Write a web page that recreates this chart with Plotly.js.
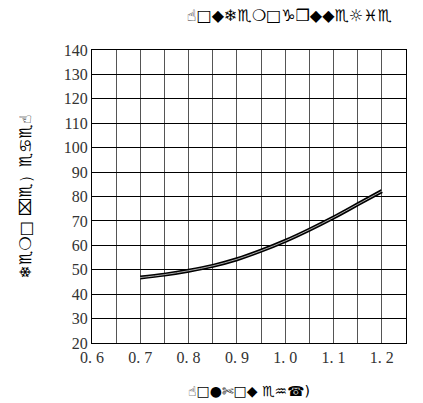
<!DOCTYPE html>
<html><head><meta charset="utf-8">
<script src="https://cdn.plot.ly/plotly-3.0.1.min.js"></script>
<style>html,body{margin:0;padding:0;background:#fff}#c{width:423px;height:403px}</style>
</head><body><div id="c"></div>
<script>
const xValues = [0.70, 0.75, 0.80, 0.85, 0.90, 0.95, 1.00, 1.05, 1.10, 1.15, 1.20];
const yValues = [46.8, 48.0, 49.6, 51.6, 54.3, 57.8, 61.8, 66.4, 71.4, 76.8, 82.2];
const xTickVals = [0.6, 0.7, 0.8, 0.9, 1.0, 1.1, 1.2];
const xTickText = ["0. 6", "0. 7", "0. 8", "0. 9", "1. 0", "1. 1", "1. 2"];
const yTickVals = [20, 30, 40, 50, 60, 70, 80, 90, 100, 110, 120, 130, 140];
const titleText = "☝□◆❄♏❍□♑❒◆◆♏☼♓♏";
const xLabel = "☝□●✄□◆ ♏♒☎)";
const yLabel = "❄♏❍□ ⌧♏）♏♋♏☝";

const traces = [
  {x: xValues, y: yValues, mode: "lines", line: {color: "#000", width: 4, shape: "spline"}, hoverinfo: "skip"},
  {x: xValues, y: yValues, mode: "lines", line: {color: "#aaa", width: 1, shape: "spline"}, hoverinfo: "skip"}
];
const tickFont = {family: "Liberation Serif, DejaVu Serif, serif", size: 16, color: "#333"};
const layout = {
  width: 423, height: 403,
  margin: {l: 92, r: 17, t: 50, b: 60},
  paper_bgcolor: "#fff", plot_bgcolor: "#fff",
  showlegend: false,
  title: {text: titleText, x: 0.684, xanchor: "center", y: 0.962, yanchor: "middle",
          font: {family: "DejaVu Sans", size: 16, color: "#000"}},
  xaxis: {
    range: [0.6, 1.25], tickvals: xTickVals, ticktext: xTickText,
    showgrid: true, gridcolor: "#555", gridwidth: 1,
    minor: {dtick: 0.05, showgrid: true, gridcolor: "#555", gridwidth: 1},
    showline: true, linecolor: "#000", linewidth: 1, mirror: true,
    ticks: "", tickfont: tickFont, zeroline: false,
    title: {text: xLabel, font: {family: "DejaVu Sans", size: 14, color: "#000"}, standoff: 20}
  },
  yaxis: {
    range: [20, 140], tickvals: yTickVals,
    showgrid: true, gridcolor: "#000", gridwidth: 1,
    showline: true, linecolor: "#000", linewidth: 1, mirror: true,
    ticks: "", tickfont: tickFont, zeroline: false,
    title: {text: yLabel, font: {family: "DejaVu Sans", size: 16, color: "#000"}, standoff: 28}
  }
};
Plotly.newPlot("c", traces, layout, {staticPlot: true, displayModeBar: false});
</script></body></html>
